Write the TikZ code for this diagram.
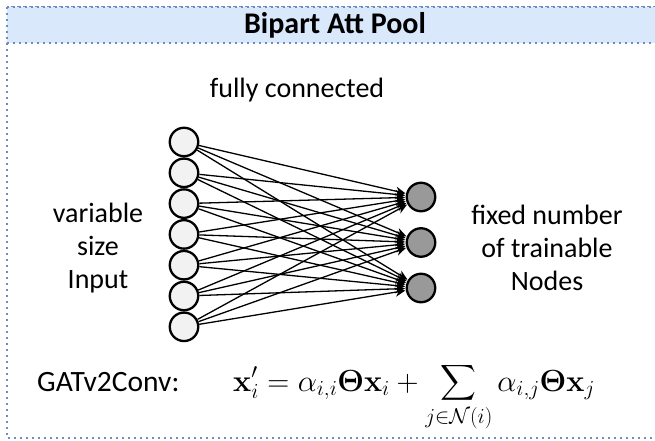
\RequirePackage{fix-cm}
\documentclass[tikz,border=0pt]{standalone}
\usepackage{amsmath}
\usepackage[no-math]{fontspec}
\setmainfont{Carlito}
\usetikzlibrary{arrows.meta,positioning}
\definecolor{frameblue}{HTML}{6C8EBF}
\definecolor{bandblue}{HTML}{DAE8FC}
\definecolor{ingray}{HTML}{F2F2F2}
\definecolor{outgray}{HTML}{999999}

\begin{document}
\begin{tikzpicture}[x=1pt,y=-1pt,->,>={Stealth[length=10pt,width=9pt]},shorten >=0.5pt,
  node distance=30.8pt,
  in node/.style={circle,fill=ingray,draw,line width=2.3pt,minimum size=28.5pt,inner sep=0pt},
  out node/.style={circle,fill=outgray,draw,line width=2.3pt,minimum size=28.5pt,inner sep=0pt},
  label node/.style={align=center,font=\fontsize{28}{33}\selectfont},
  frame line/.style={draw=frameblue,line width=2.4pt,dash pattern=on 2.4pt off 3.6pt}]

  \useasboundingbox (0,0) rectangle (655,441);
  \path[frame line,-] (7,7) rectangle (668,438);
  \path[frame line,-,fill=bandblue] (7,7) rectangle (668,43);
  \node[font=\fontsize{30}{34}\selectfont\bfseries] (title) at (335,25) {Bipart Att Pool};

  % input layer
  \node[in node] (in1) at (184,142) {};
  \node[in node] (in2) [below of=in1] {};
  \node[in node] (in3) [below of=in2] {};
  \node[in node] (in4) [below of=in3] {};
  \node[in node] (in5) [below of=in4] {};
  \node[in node] (in6) [below of=in5] {};
  \node[in node] (in7) [below of=in6] {};

  % trainable nodes
  \node[out node] (out1) at (421,197) {};
  \node[out node,node distance=45.5pt] (out2) [below of=out1] {};
  \node[out node,node distance=45.5pt] (out3) [below of=out2] {};

  \foreach \i in {1,...,7}
    \foreach \j in {1,2,3}
      \path[line width=1.3pt] (in\i) edge (out\j);

  \node[label node] (conn) at (297,90) {fully connected};
  \node[label node] (inlab) at (98,248) {variable\\size\\Input};
  \node[label node] (outlab) at (547,248) {fixed number\\of trainable\\Nodes};

  \node[label node,font=\fontsize{29.5}{33}\selectfont,anchor=base west,inner sep=0pt] (gat) at (37,391) {GATv2Conv:};
  \node[font=\fontsize{30.5}{35}\selectfont,anchor=base west,inner sep=0pt] (eq) at (233,391)
    {$\displaystyle \mathbf{x}'_i = \alpha_{i,i}\mathbf{\Theta}\mathbf{x}_i + \sum_{j\in\mathcal{N}(i)} \alpha_{i,j}\mathbf{\Theta}\mathbf{x}_j$};

\end{tikzpicture}
\end{document}
